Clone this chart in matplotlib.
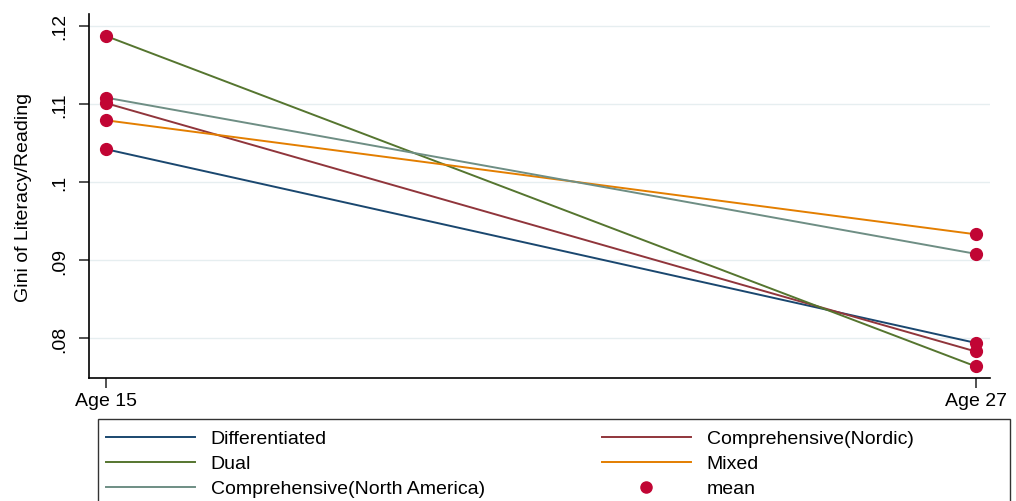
import matplotlib
matplotlib.use("Agg")
import matplotlib.pyplot as plt
from matplotlib.lines import Line2D
from matplotlib.patches import Rectangle

plt.rcParams['font.family'] = ['Liberation Sans', 'DejaVu Sans']

ages = [15, 27]
age_labels = ["Age 15", "Age 27"]
series_names = ["Differentiated", "Comprehensive(Nordic)", "Dual", "Mixed",
                "Comprehensive(North America)"]
differentiated = [0.1042, 0.0794]
nordic = [0.1101, 0.0783]
dual = [0.1187, 0.0764]
mixed = [0.1079, 0.0933]
north_america = [0.1108, 0.0908]
yticks = [0.08, 0.09, 0.10, 0.11, 0.12]
ytick_labels = [".08", ".09", ".1", ".11", ".12"]

colors = {"Differentiated": "#1a476f", "Comprehensive(Nordic)": "#90353b",
          "Dual": "#55752f", "Mixed": "#e37e00",
          "Comprehensive(North America)": "#6e8e84"}
data = {"Differentiated": differentiated, "Comprehensive(Nordic)": nordic,
        "Dual": dual, "Mixed": mixed, "Comprehensive(North America)": north_america}
mean_color = "#c10534"

W, H = 1016, 502
fig = plt.figure(figsize=(W/100, H/100), dpi=100)
ax = fig.add_axes([89/W, 1-379/H, (990-89)/W, (379-15)/H])

handles = {}
for name in series_names:
    h, = ax.plot(ages, data[name], color=colors[name], lw=1.4, zorder=2)
    handles[name] = h
for name in series_names:
    ax.plot(ages, data[name], 'o', color=mean_color, ms=8.5, mec=mean_color, zorder=3)

ax.set_xlim(14.77, 27.2)
ax.set_ylim(0.0749, 0.1215)
ax.set_yticks(yticks)
ax.set_yticklabels(ytick_labels, rotation=90, va='center', fontsize=14)
ax.set_xticks(ages)
ax.set_xticklabels(age_labels, fontsize=14)
ax.set_ylabel("Gini of Literacy/Reading", fontsize=14, labelpad=14)
ax.grid(axis='y', color='#e6eef0', lw=1)
ax.set_axisbelow(True)
for s in ['top', 'right']:
    ax.spines[s].set_visible(False)
ax.spines['left'].set_linewidth(1.2)
ax.spines['bottom'].set_linewidth(1.2)
ax.tick_params(axis='both', length=7, width=1.2, color='#333333')
ax.tick_params(axis='y', pad=8)
ax.tick_params(axis='x', pad=3)

mean_handle = Line2D([], [], marker='o', ls='none', color=mean_color, ms=8)
order = ["Differentiated", "Dual", "Comprehensive(North America)",
         "Comprehensive(Nordic)", "Mixed"]
hs = [handles[n] for n in order] + [mean_handle]
ls = order + ["mean"]
leg = fig.legend(hs, ls, loc='upper left', ncol=2,
                 bbox_to_anchor=(98/W, 1-423/H),
                 bbox_transform=fig.transFigure, fontsize=14, frameon=False,
                 handlelength=4.6, handletextpad=0.8, columnspacing=6.0,
                 borderaxespad=0, labelspacing=0.38, borderpad=0.4)

fig.patches.append(Rectangle((98/W, -0.05), (1010-98)/W, (1-420/H) + 0.05,
                             transform=fig.transFigure, fill=False,
                             edgecolor='#333333', lw=1.0))

fig.savefig("out.png", dpi=100)
